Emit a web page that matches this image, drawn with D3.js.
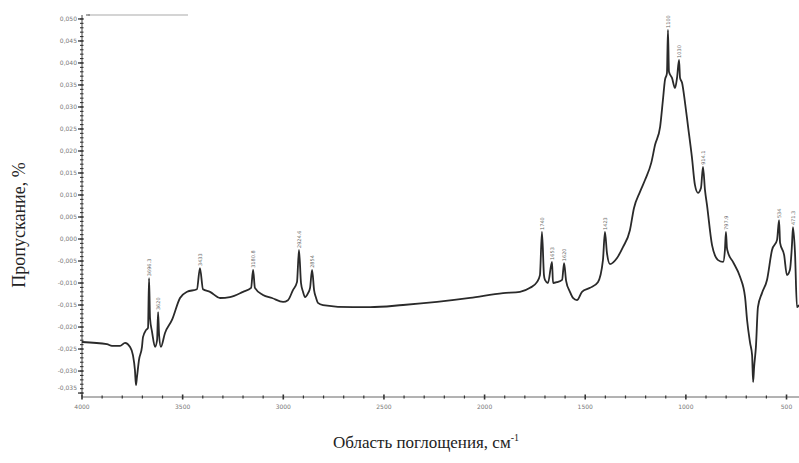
<!DOCTYPE html>
<html><head><meta charset="utf-8">
<script src="https://cdn.jsdelivr.net/npm/d3@7/dist/d3.min.js"></script>
<style>body{margin:0;background:#fff}svg{display:block}</style>
</head><body>
<svg id="c" width="799" height="463"></svg>
<script>
const wavenumbers = [4000,3876,3851,3811,3786,3762,3747,3737,3732,3727,3717,3702,3697,3682,3672,3667,3662,3652,3637,3627,3622,3617,3608,3588,3553,3513,3478,3429,3414,3399,3364,3314,3265,3200,3160,3150,3141,3101,3056,3001,2977,2952,2932,2922,2912,2902,2892,2877,2867,2857,2847,2837,2828,2803,2654,2569,2405,2236,2072,1908,1824,1774,1740,1725,1715,1705,1700,1685,1665,1660,1640,1615,1605,1595,1576,1561,1541,1516,1476,1437,1412,1402,1392,1377,1342,1312,1278,1258,1228,1203,1172,1153,1128,1114,1104,1094,1089,1084,1069,1054,1044,1034,1029,1019,1004,989,970,955,940,925,915,905,895,870,840,815,806,801,796,791,766,731,706,696,681,671,666,661,652,642,622,597,572,547,537,532,512,498,483,473,468,458,448,438];
const transmittance = [-0.0234,-0.0239,-0.0243,-0.0243,-0.0236,-0.0245,-0.0264,-0.0298,-0.0332,-0.0314,-0.0275,-0.0245,-0.0223,-0.0207,-0.0202,-0.0089,-0.0180,-0.0211,-0.0245,-0.0230,-0.0166,-0.0218,-0.0245,-0.0214,-0.0184,-0.0134,-0.0120,-0.0114,-0.0066,-0.0114,-0.0120,-0.0134,-0.0132,-0.0120,-0.0111,-0.0070,-0.0111,-0.0127,-0.0134,-0.0143,-0.0139,-0.0116,-0.0098,-0.0025,-0.0100,-0.0120,-0.0132,-0.0123,-0.0111,-0.0070,-0.0116,-0.0134,-0.0145,-0.0150,-0.0155,-0.0155,-0.0150,-0.0143,-0.0134,-0.0123,-0.0120,-0.0111,-0.0098,-0.0082,0.0016,-0.0082,-0.0093,-0.0100,-0.0052,-0.0100,-0.0098,-0.0093,-0.0055,-0.0095,-0.0120,-0.0134,-0.0139,-0.0120,-0.0111,-0.0098,-0.0048,0.0016,-0.0032,-0.0057,-0.0043,-0.0018,0.0020,0.0070,0.0107,0.0134,0.0173,0.0214,0.0255,0.0316,0.0361,0.0377,0.0475,0.0380,0.0366,0.0343,0.0366,0.0407,0.0366,0.0355,0.0309,0.0255,0.0186,0.0123,0.0105,0.0116,0.0164,0.0111,0.0077,-0.0014,-0.0048,-0.0052,-0.0025,0.0016,-0.0020,-0.0030,-0.0052,-0.0086,-0.0132,-0.0184,-0.0236,-0.0264,-0.0325,-0.0291,-0.0245,-0.0155,-0.0123,-0.0093,-0.0025,-0.0002,0.0043,-0.0009,-0.0036,-0.0082,-0.0070,-0.0014,0.0027,-0.0030,-0.0155,-0.0150];
const peakWavenumbers = [3667,3622,3414,3150,2922,2857,1715,1665,1605,1402,1089,1034,915,801,537,468];
const peakLabels = ["3696.3","3620","3433","3180.8","2924.6","2854","1740","1653","1620","1423","1100","1030","914.1","797.9","534","471.3"];
const xTickValues = [4000,3500,3000,2500,2000,1500,1000,500];
const yTickValues = [0.050,0.045,0.040,0.035,0.030,0.025,0.020,0.015,0.010,0.005,0.000,-0.005,-0.010,-0.015,-0.020,-0.025,-0.030,-0.035];
const yTitle = "Пропускание, %";
const xTitle = "Область поглощения, см";
const xTitleSup = "-1";

const svg = d3.select("#c");
const x = d3.scaleLinear().domain([4000, 438]).range([82, 799]);
const y = d3.scaleLinear().domain([-0.0359, 0.0509]).range([397, 15]);

const fmtY = v => d3.format(".3f")(v).replace("−","-").replace(".", ",");

// X axis
const gx = svg.append("g").attr("transform", "translate(0,397)");
gx.append("line").attr("x1", 82).attr("x2", 799).attr("stroke", "#666").attr("stroke-width", 1);
const xMinor = d3.range(4000, 438, -100);
gx.selectAll(".xm").data(xMinor).join("line")
  .attr("x1", d => x(d)).attr("x2", d => x(d))
  .attr("y1", d => d % 500 === 0 ? -2.5 : -1.5).attr("y2", d => d % 500 === 0 ? 2.5 : 1.5)
  .attr("stroke", "#333").attr("stroke-width", d => d % 500 === 0 ? 1.6 : 1.2);
gx.selectAll(".xl").data(xTickValues).join("text")
  .attr("x", d => x(d)).attr("y", 12).attr("text-anchor", "middle")
  .attr("font-family", "DejaVu Sans, sans-serif").attr("font-size", 6).attr("fill", "#777")
  .text(d => d);

// Y axis
const gy = svg.append("g").attr("transform", "translate(82,0)");
gy.append("line").attr("y1", 15).attr("y2", 397).attr("stroke", "#444").attr("stroke-width", 1);
const yMinor = d3.range(-35, 51, 1).map(d => d / 1000);
gy.selectAll(".ym").data(yMinor).join("line")
  .attr("y1", d => y(d)).attr("y2", d => y(d))
  .attr("x1", -2).attr("x2", 1.5)
  .attr("stroke", "#333").attr("stroke-width", 1.1);
gy.selectAll(".yM").data(yTickValues).join("line")
  .attr("y1", d => y(d)).attr("y2", d => y(d))
  .attr("x1", -4).attr("x2", 1.5)
  .attr("stroke", "#333").attr("stroke-width", 1.3);
gy.selectAll(".yl").data(yTickValues).join("text")
  .attr("x", -5).attr("y", (d, i) => y(d) + (i === yTickValues.length - 1 ? -3 : 2))
  .attr("text-anchor", "end")
  .attr("font-family", "DejaVu Sans, sans-serif").attr("font-size", 6).attr("fill", "#777")
  .text(d => fmtY(d));

// legend
svg.append("line").attr("x1", 88).attr("x2", 188).attr("y1", 15).attr("y2", 15)
  .attr("stroke", "#aaa").attr("stroke-width", 1.2);
svg.append("line").attr("x1", 86).attr("x2", 90).attr("y1", 15).attr("y2", 15)
  .attr("stroke", "#555").attr("stroke-width", 1);

// spectrum
const pts = wavenumbers.map((w, i) => [w, transmittance[i]]);
const line = d3.line().x(d => x(d[0])).y(d => y(d[1])).curve(d3.curveMonotoneX);
svg.append("path").datum(pts.slice().reverse()).attr("d", line)
  .attr("fill", "none").attr("stroke", "#2a2a2a").attr("stroke-width", 1.8)
  .attr("stroke-linejoin", "round");

// peak labels
peakWavenumbers.forEach((w, i) => {
  const idx = wavenumbers.indexOf(w);
  const px = x(w), py = y(transmittance[idx]) - 2;
  svg.append("text")
    .attr("transform", `translate(${px + 1.8},${py}) rotate(-90)`)
    .attr("font-family", "DejaVu Sans, sans-serif").attr("font-size", 5)
    .attr("fill", "#666").text(peakLabels[i]);
});

// titles
svg.append("text").attr("transform", "translate(25,225) rotate(-90)")
  .attr("text-anchor", "middle").attr("font-family", "Liberation Serif, serif")
  .attr("font-size", 18).attr("fill", "#222").text(yTitle);
const xt = svg.append("text").attr("x", 426).attr("y", 448).attr("text-anchor", "middle")
  .attr("font-family", "Liberation Serif, serif").attr("font-size", 17).attr("fill", "#222");
xt.append("tspan").text(xTitle);
xt.append("tspan").attr("font-size", 10).attr("dy", -7).text(xTitleSup);
</script>
</body></html>
